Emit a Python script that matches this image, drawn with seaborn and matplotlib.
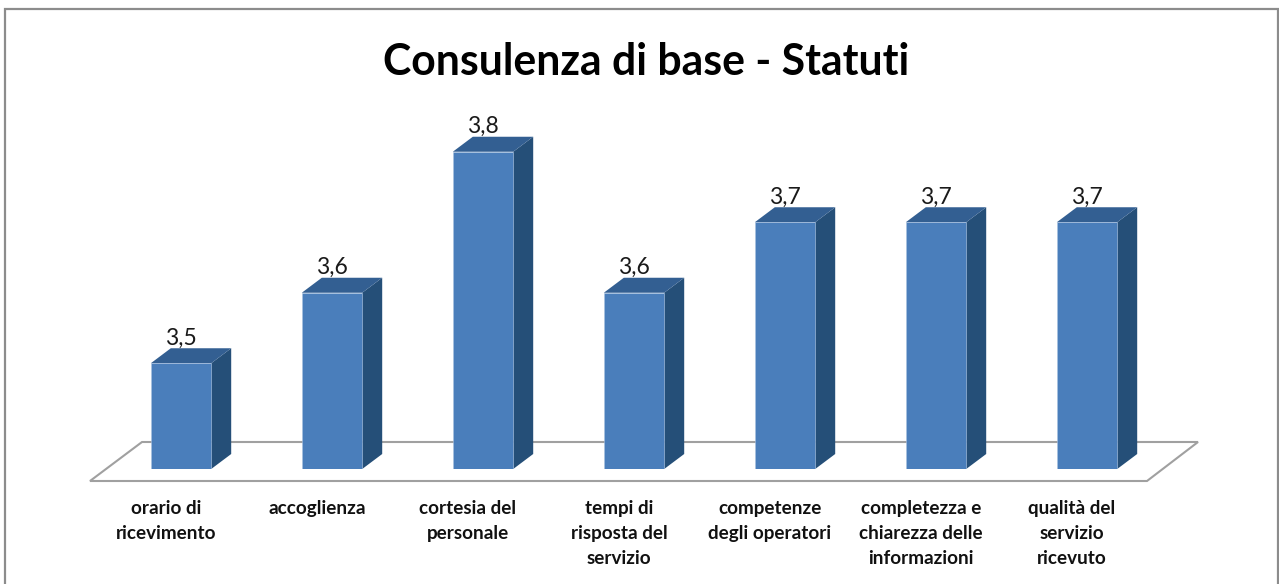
import matplotlib
matplotlib.use('Agg')
import matplotlib.pyplot as plt
import matplotlib.transforms as mtrans
from matplotlib.patches import Polygon, Rectangle
import seaborn as sns
import pandas as pd

categories = ['orario di\nricevimento', 'accoglienza', 'cortesia del\npersonale',
              'tempi di\nrisposta del\nservizio', 'competenze\ndegli operatori',
              'completezza e\nchiarezza delle\ninformazioni', 'qualità del\nservizio\nricevuto']
values = [3.5, 3.6, 3.8, 3.6, 3.7, 3.7, 3.7]
title = 'Consulenza di base - Statuti'

W, H = 1279, 584
sns.set_theme(style='white')
plt.rcParams['font.family'] = ['Lato', 'DejaVu Sans']

df = pd.DataFrame({'categoria': categories, 'valore': values})

fig = plt.figure(figsize=(W / 100, H / 100), dpi=100, facecolor='white')


def px(x, y):
    # pixel da in alto a sinistra -> frazione di figura
    return x / W, 1 - y / H


# cornice (il bordo basso resta fuori dall'immagine) e pavimento
fig.add_artist(Rectangle(px(5, 600), (1277.5 - 5) / W, (600 - 9) / H, transform=fig.transFigure,
                         fill=False, edgecolor='#8c8c8c', linewidth=1.6, zorder=-2))
floor = [px(90, 481), px(1147, 481), px(1198, 442), px(142, 442)]
fig.add_artist(Polygon(floor, closed=True, transform=fig.transFigure, facecolor='white',
                       edgecolor='#a0a0a0', linewidth=1.5, zorder=-1))

ymin, ymax = 3.35, 3.87
ax_h = (ymax - ymin) * 705
ax = fig.add_axes([105.5 / W, 1 - 469 / H, 1057 / W, ax_h / H])
ax.patch.set_alpha(0)

sns.barplot(data=df, x='categoria', y='valore', color='#4a7ebb', saturation=1, width=0.4, ax=ax)
ax.set_ylim(ymin, ymax)
ax.set_xlim(-0.5, 6.5)
ax.set_xlabel('')
ax.set_ylabel('')
ax.set_yticks([])
sns.despine(ax=ax, left=True, bottom=True)
ax.tick_params(axis='x', length=0, pad=22.5)
offset = mtrans.Affine2D().translate(-15, 0)
for lab in ax.get_xticklabels():
    lab.set_fontsize(13.6)
    lab.set_fontweight('bold')
    lab.set_color('#111111')
    lab.set_linespacing(1.55)
    lab.set_va('top')
    lab.set_transform(lab.get_transform() + offset)

# lati e cime delle barre, ricavati dai rettangoli di seaborn
dx, dy = 20, 15
for bar, val in zip(ax.patches, values):
    bar.set_edgecolor('#a9c2e0')
    bar.set_linewidth(0.4)
    bar.set_zorder(3)
    x0, x1 = bar.get_x(), bar.get_x() + bar.get_width()
    (xa, ya), (xb, yb) = ax.transData.transform([(x0, val), (x1, ymin)])
    side = [(xb, ya), (xb + dx, ya + dy), (xb + dx, yb + dy), (xb, yb)]
    top = [(xa, ya), (xb, ya), (xb + dx, ya + dy), (xa + dx, ya + dy)]
    ax.add_patch(Polygon(side, closed=True, transform=None, facecolor='#254f78', edgecolor='none',
                         clip_on=False, zorder=2))
    ax.add_patch(Polygon(top, closed=True, transform=None, facecolor='#335f92', edgecolor='none',
                         clip_on=False, zorder=2))
    ax.annotate(f'{val:.1f}'.replace('.', ','), xy=((x0 + x1) / 2, val), xytext=(0, 25),
                textcoords='offset pixels', ha='center', va='center', fontsize=16.5, color='#1a1a1a',
                annotation_clip=False, zorder=4)

tx, ty = px(646, 62)
fig.text(tx, ty, title, ha='center', va='center', fontsize=30.8, fontweight='bold', color='black')

fig.savefig('out.png', dpi=100)
